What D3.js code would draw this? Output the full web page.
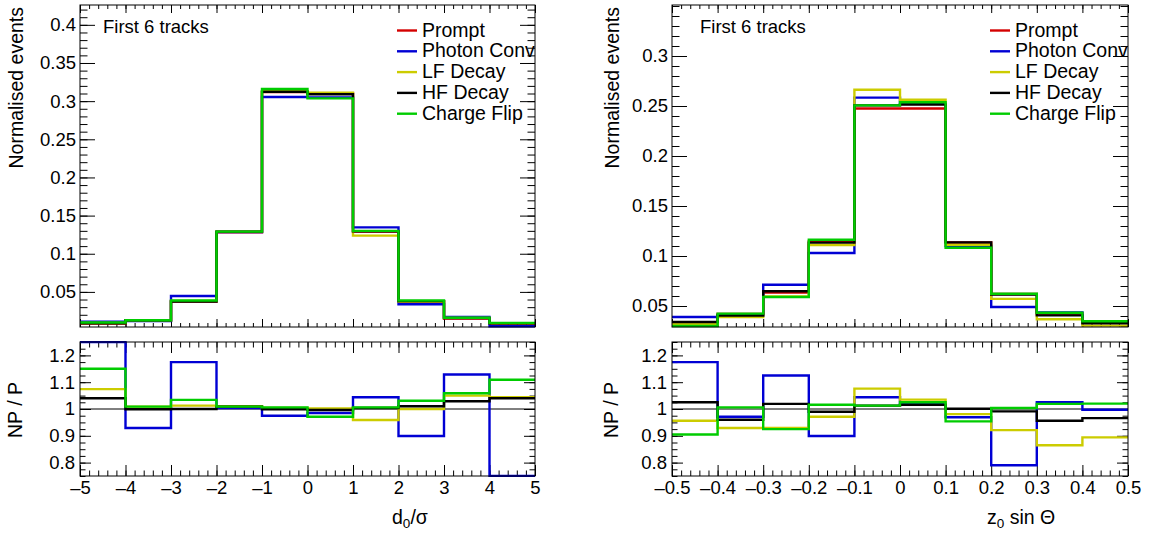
<!DOCTYPE html>
<html lang="en">
  <head>
    <meta charset="UTF-8" />
    <title>Track impact parameter ratios</title>
    <script src="https://d3js.org/d3.v7.min.js"></script>
    <style>
      body { margin: 0; background: #fff; }
      svg { display: block; font-family: "Liberation Sans", Arial, sans-serif; }
    </style>
  </head>
  <body>
    <svg width="1151" height="536"></svg>
    <script>
      // sample names + colours
      const series = ['Prompt', 'Photon Conv', 'LF Decay', 'HF Decay', 'Charge Flip'];
      const colours = ['#d40000', '#0000d4', '#cccc00', '#000000', '#00cc00'];

      // d0/sigma : bin edges and normalised contents
      const d0Edges = [-5, -4, -3, -2, -1, 0, 1, 2, 3, 4, 5];
      const d0Prompt = [0.0085, 0.0128, 0.0375, 0.128, 0.312, 0.310, 0.129, 0.0375, 0.0152, 0.0085];
      const d0Photon = [0.0110, 0.0118, 0.0447, 0.1285, 0.3054, 0.3050, 0.1345, 0.0339, 0.0172, 0.0050];
      const d0LF = [0.0092, 0.0129, 0.0380, 0.129, 0.313, 0.311, 0.1237, 0.0375, 0.0160, 0.0089];
      const d0HF = [0.0088, 0.0128, 0.0375, 0.129, 0.3124, 0.309, 0.1295, 0.0379, 0.0156, 0.0088];
      const d0CF = [0.0098, 0.0129, 0.0388, 0.129, 0.316, 0.3036, 0.130, 0.0387, 0.0161, 0.0094];
      // NP / P
      const d0RatioPhoton = [1.30, 0.929, 1.175, 1.004, 0.975, 0.985, 1.044, 0.899, 1.129, 0.55];
      const d0RatioLF = [1.074, 1.009, 1.0125, 1.01, 1.004, 1.0025, 0.959, 1.0, 1.05, 1.044];
      const d0RatioHF = [1.04, 0.999, 1.0, 1.009, 0.999, 0.996, 1.004, 1.01, 1.029, 1.04];
      const d0RatioCF = [1.15, 1.009, 1.034, 1.009, 1.006, 0.971, 1.006, 1.031, 1.059, 1.109];

      // z0 sin theta
      const z0Edges = [-0.5, -0.4, -0.3, -0.2, -0.1, 0, 0.1, 0.2, 0.3, 0.4, 0.5];
      const z0Prompt = [0.0332, 0.042, 0.0635, 0.1145, 0.2475, 0.2475, 0.1135, 0.062, 0.0425, 0.034];
      const z0Photon = [0.039, 0.0408, 0.0712, 0.103, 0.2584, 0.2527, 0.110, 0.049, 0.0436, 0.0339];
      const z0LF = [0.0317, 0.039, 0.0596, 0.111, 0.2663, 0.2562, 0.1113, 0.0571, 0.0368, 0.0304];
      const z0HF = [0.034, 0.0405, 0.0647, 0.1134, 0.2506, 0.2515, 0.1136, 0.0614, 0.0406, 0.0328];
      const z0CF = [0.030, 0.0424, 0.059, 0.1163, 0.2506, 0.2537, 0.1083, 0.0622, 0.0433, 0.0347];
      const z0RatioPhoton = [1.175, 0.971, 1.125, 0.899, 1.044, 1.021, 0.969, 0.79, 1.025, 0.997];
      const z0RatioLF = [0.956, 0.929, 0.929, 0.971, 1.076, 1.035, 0.981, 0.921, 0.865, 0.894];
      const z0RatioHF = [1.025, 0.96, 1.019, 0.99, 1.0125, 1.016, 1.001, 0.991, 0.956, 0.966];
      const z0RatioCF = [0.905, 1.006, 0.925, 1.016, 1.0125, 1.025, 0.954, 1.004, 1.019, 1.02];

      // axis ticks
      const d0Ticks = [-5, -4, -3, -2, -1, 0, 1, 2, 3, 4, 5];
      const z0Ticks = [-0.5, -0.4, -0.3, -0.2, -0.1, 0, 0.1, 0.2, 0.3, 0.4, 0.5];
      const d0YTicks = [0.05, 0.1, 0.15, 0.2, 0.25, 0.3, 0.35, 0.4];
      const z0YTicks = [0.05, 0.1, 0.15, 0.2, 0.25, 0.3];
      const ratioTicks = [0.8, 0.9, 1, 1.1, 1.2];

      const svg = d3.select('svg');
      const fmt = (d) => (d < 0 ? '\u2013' : '') + Math.abs(+d.toFixed(3));
      const labelSize = 18.5;
      const textSize = 19.5;

      function minors(majors, sub, lo, hi) {
        const step = (majors[1] - majors[0]) / sub;
        const out = [];
        for (let v = majors[0] - 10 * step * sub; v <= hi + 1e-9; v += step) {
          if (v >= lo - 1e-9) out.push(+v.toFixed(6));
        }
        return out;
      }

      function stepLine(x, y, edges, vals) {
        const pts = vals.map((v, i) => [edges[i], v]);
        pts.push([edges[edges.length - 1], vals[vals.length - 1]]);
        return d3.line().x((d) => x(d[0])).y((d) => y(d[1])).curve(d3.curveStepAfter)(pts);
      }

      function panel(o) {
        const g = svg.append('g');
        const x = d3.scaleLinear().domain([o.edges[0], o.edges[o.edges.length - 1]]).range([o.x0, o.x1]);
        const y = d3.scaleLinear().domain(o.ydom).range([o.y1, o.y0]).clamp(true);
        const id = 'clip' + o.id;
        svg.append('clipPath').attr('id', id).append('rect')
          .attr('x', o.x0).attr('y', o.y0 - 1).attr('width', o.x1 - o.x0).attr('height', o.y1 - o.y0 + 2);

        const xMin = minors(o.xticks, 5, x.domain()[0], x.domain()[1]);
        const yMin = minors(o.yticks, o.ysub, o.ydom[0], o.ydom[1]);
        const mk = (axis, tr, vals, size, lab) => {
          const a = g.append('g').attr('transform', tr)
            .call(axis.tickValues(vals).tickSize(size).tickPadding(lab ? o.pad : 0)
              .tickFormat(lab ? fmt : ''));
          a.select('.domain').remove();
          a.selectAll('line').attr('stroke', '#000').attr('stroke-width', 1);
          a.selectAll('text').attr('font-size', labelSize).attr('fill', '#000')
            .attr('font-family', '"Liberation Sans", Arial, sans-serif');
          return a;
        };
        // x ticks: bottom and top
        mk(d3.axisBottom(x), `translate(0,${o.y1})`, o.xticks, -o.xmaj, o.xlabels);
        mk(d3.axisBottom(x), `translate(0,${o.y1})`, xMin, -o.xmaj / 2, false);
        mk(d3.axisTop(x), `translate(0,${o.y0})`, o.xticks, -o.xmaj, false);
        mk(d3.axisTop(x), `translate(0,${o.y0})`, xMin, -o.xmaj / 2, false);
        // y ticks: left and right
        mk(d3.axisLeft(y), `translate(${o.x0},0)`, o.yticks, -o.ymaj, true);
        mk(d3.axisLeft(y), `translate(${o.x0},0)`, yMin, -o.ymaj / 2, false);
        mk(d3.axisRight(y), `translate(${o.x1},0)`, o.yticks, -o.ymaj, false);
        mk(d3.axisRight(y), `translate(${o.x1},0)`, yMin, -o.ymaj / 2, false);

        const plot = g.append('g').attr('clip-path', `url(#${id})`);
        if (o.refLine) {
          plot.append('line').attr('x1', o.x0).attr('x2', o.x1)
            .attr('y1', y(1)).attr('y2', y(1)).attr('stroke', '#000').attr('stroke-width', 1);
        }
        o.hists.forEach((h) => {
          plot.append('path').attr('d', stepLine(x, y, o.edges, h.vals))
            .attr('fill', 'none').attr('stroke', h.col).attr('stroke-width', 2.4);
        });
        g.append('rect').attr('x', o.x0).attr('y', o.y0)
          .attr('width', o.x1 - o.x0).attr('height', o.y1 - o.y0)
          .attr('fill', 'none').attr('stroke', '#000').attr('stroke-width', 1);
        return { x, y, g };
      }

      function topPanel(id, x0, x1, edges, xticks, ydom, yticks, vals, labelX, titleOff) {
        const p = panel({
          id, x0, x1, y0: 5, y1: 327, edges, xticks, ydom, yticks, ysub: 5,
          xmaj: 8, ymaj: 15, pad: 4, xlabels: false,
          hists: vals.map((v, i) => ({ vals: v, col: colours[i] })),
        });
        p.g.append('text').attr('x', labelX).attr('y', 33).attr('font-size', textSize - 1)
          .text('First 6 tracks');
        const lg = p.g.append('g');
        series.forEach((s, i) => {
          const yy = 29.5 + i * 20.8;
          lg.append('line').attr('x1', x1 - 138).attr('x2', x1 - 118).attr('y1', yy + 1).attr('y2', yy + 1)
            .attr('stroke', colours[i]).attr('stroke-width', 2.4);
          lg.append('text').attr('x', x1 - 113).attr('y', yy).attr('dy', '0.36em')
            .attr('font-size', textSize).text(s);
        });
        svg.append('text').attr('transform', `translate(${x0 - titleOff},7) rotate(-90)`)
          .attr('text-anchor', 'end').attr('font-size', textSize).text('Normalised events');
      }

      function ratioPanel(id, x0, x1, edges, xticks, vals, titleOff) {
        panel({
          id, x0, x1, y0: 342, y1: 476, edges, xticks, ydom: [0.75, 1.25], yticks: ratioTicks, ysub: 4,
          xmaj: 11, ymaj: 11, pad: 5, xlabels: true, refLine: true,
          hists: vals.map((v, i) => ({ vals: v, col: colours[i + 1] })),
        });
        svg.append('text').attr('transform', `translate(${x0 - titleOff},410) rotate(-90)`)
          .attr('text-anchor', 'middle').attr('font-size', textSize).text('NP / P');
      }

      topPanel('a', 80, 535, d0Edges, d0Ticks, [0.004, 0.426], d0YTicks,
        [d0Prompt, d0Photon, d0LF, d0HF, d0CF], 103, 57);
      ratioPanel('b', 80, 535, d0Edges, d0Ticks, [d0RatioPhoton, d0RatioLF, d0RatioHF, d0RatioCF], 58);
      topPanel('c', 672, 1128, z0Edges, z0Ticks, [0.029, 0.351], z0YTicks,
        [z0Prompt, z0Photon, z0LF, z0HF, z0CF], 700, 53);
      ratioPanel('d', 672, 1128, z0Edges, z0Ticks, [z0RatioPhoton, z0RatioLF, z0RatioHF, z0RatioCF], 54);

      // x axis titles with subscripts
      const t1 = svg.append('text').attr('x', 392).attr('y', 524).attr('font-size', textSize);
      t1.append('tspan').text('d');
      t1.append('tspan').attr('dy', 4).attr('font-size', 13.5).text('0');
      t1.append('tspan').attr('dy', -4).text('/\u03c3');
      const t2 = svg.append('text').attr('x', 987).attr('y', 524).attr('font-size', textSize);
      t2.append('tspan').text('z');
      t2.append('tspan').attr('dy', 4).attr('font-size', 13.5).text('0');
      t2.append('tspan').attr('dy', -4).text(' sin \u0398');
    </script>
  </body>
</html>
